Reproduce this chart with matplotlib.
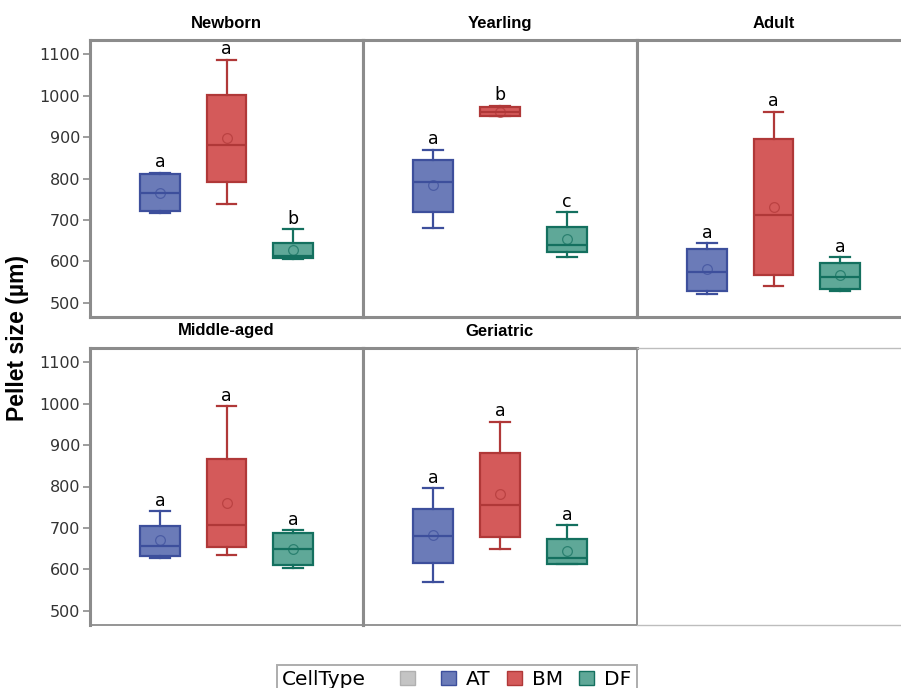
import matplotlib
matplotlib.use("Agg")
import matplotlib.pyplot as plt
from matplotlib.patches import Patch
from matplotlib.offsetbox import HPacker

# box-plot summaries per life stage, columns in cell_types order
stages = ["Newborn", "Yearling", "Adult", "Middle-aged", "Geriatric"]
cell_types = ["AT", "BM", "DF"]

whisker_lo = [[717, 739, 605], [680, 950, 610], [520, 540, 528], [628, 634, 604], [568, 650, 612]]
q1 = [[721, 792, 607], [719, 952, 622], [527, 566, 533], [633, 654, 609], [614, 679, 612]]
median = [[765, 881, 612], [791, 962, 638], [575, 711, 562], [657, 707, 649], [680, 756, 627]]
q3 = [[810, 1001, 643], [845, 974, 683], [629, 895, 596], [704, 867, 687], [746, 881, 674]]
whisker_hi = [[814, 1087, 677], [870, 976, 719], [644, 962, 610], [740, 994, 694], [796, 957, 707]]
means = [[765, 897, 626], [784, 962, 653], [581, 732, 567], [670, 760, 649], [682, 781, 644]]
letters = [["a", "a", "b"], ["a", "b", "c"], ["a", "a", "a"], ["a", "a", "a"], ["a", "a", "a"]]

fill_colors = ["#6b7bb8", "#d45a5a", "#5fa898"]
edge_colors = ["#3d4f9c", "#b03838", "#14705f"]
spine_gray = "#8c8c8c"

W, H = 901, 688
fig = plt.figure(figsize=(W / 100, H / 100), dpi=100)


def add_panel(x0, y0, x1, y1):
    return fig.add_axes([x0 / W, 1 - y1 / H, (x1 - x0) / W, (y1 - y0) / H])


rows = [(40, 317), (348, 625)]
cols = [(90, 363), (363, 637), (637, 910)]

for i, stage in enumerate(stages):
    r, c = divmod(i, 3)
    ax = add_panel(cols[c][0], rows[r][0], cols[c][1], rows[r][1])

    stats = []
    for j in range(3):
        stats.append(dict(whislo=whisker_lo[i][j], q1=q1[i][j], med=median[i][j],
                          q3=q3[i][j], whishi=whisker_hi[i][j], mean=means[i][j],
                          fliers=[]))
    parts = ax.bxp(stats, positions=[0, 1, 2], widths=0.6, capwidths=0.3,
                   showmeans=True, patch_artist=True, showfliers=False)
    for j in range(3):
        ec = edge_colors[j]
        parts["boxes"][j].set(facecolor=fill_colors[j], edgecolor=ec, linewidth=1.6)
        parts["medians"][j].set(color=ec, linewidth=1.6)
        for k in (2 * j, 2 * j + 1):
            parts["whiskers"][k].set(color=ec, linewidth=1.6)
            parts["caps"][k].set(color=ec, linewidth=1.6)
        parts["means"][j].set(marker="o", markersize=7, markerfacecolor="none",
                              markeredgecolor=ec, markeredgewidth=0.9, alpha=0.7)
        ax.annotate(letters[i][j], (j, whisker_hi[i][j]), xytext=(0, 1),
                    textcoords="offset points", ha="center", va="bottom",
                    fontsize=12.5, color="black")

    ax.set_xlim(-1.05, 3.05)
    ax.set_ylim(465, 1135)
    ax.set_xticks([])
    ax.set_yticks(range(500, 1101, 100))
    ax.tick_params(axis="y", length=5, width=1.2, color=spine_gray,
                   labelsize=11.5, labelcolor="#333333", pad=2)
    if c != 0:
        ax.tick_params(axis="y", length=0, labelleft=False)
    ax.set_title(stage, fontsize=12, fontweight="bold",
                 family="Liberation Sans", pad=9)

    for side, sp in ax.spines.items():
        sp.set_color(spine_gray)
        sp.set_linewidth(2.2)
    if r == 1:
        ax.spines["bottom"].set_linewidth(1.3)
        if c == 1:
            ax.spines["right"].set_linewidth(1.3)

# empty sixth cell of the grid
ax_empty = add_panel(637, 348, 910, 625)
ax_empty.set_xticks([])
ax_empty.set_yticks([])
for side in ("left", "right"):
    ax_empty.spines[side].set_visible(False)
for side in ("top", "bottom"):
    ax_empty.spines[side].set_color("#bdbdbd")
    ax_empty.spines[side].set_linewidth(1.0)
ax_empty.patch.set_alpha(0)

fig.text(18 / W, 1 - 338 / H, "Pellet size (µm)", rotation=90, ha="center",
         va="center", fontsize=16.5, fontweight="bold", family="Liberation Sans")

handles = [Patch(facecolor="#c4c4c4", edgecolor="#b0b0b0")]
labels = [""]
for j, ct in enumerate(cell_types):
    handles.append(Patch(facecolor=fill_colors[j], edgecolor=edge_colors[j]))
    labels.append(ct)
leg = fig.legend(handles, labels, loc="upper center", ncol=4,
                 bbox_to_anchor=(457 / W, 1 - 665 / H), fontsize=14.5,
                 title="CellType", title_fontsize=14.5,
                 frameon=True, fancybox=False, handlelength=0.75,
                 handleheight=0.75, handletextpad=0.5, columnspacing=0.8,
                 borderpad=0.25, borderaxespad=0)
# put the legend title to the left of the entries instead of above them
old_box = leg._legend_box
leg._legend_box = HPacker(pad=old_box.pad, sep=24, align="center",
                          children=[leg._legend_title_box, leg._legend_handle_box])
leg._legend_box.set_figure(fig)
leg._legend_box.set_offset(leg._findoffset)
leg.get_frame().set_edgecolor("#999999")
leg.get_frame().set_linewidth(1.4)

fig.savefig("out.png", dpi=100)
